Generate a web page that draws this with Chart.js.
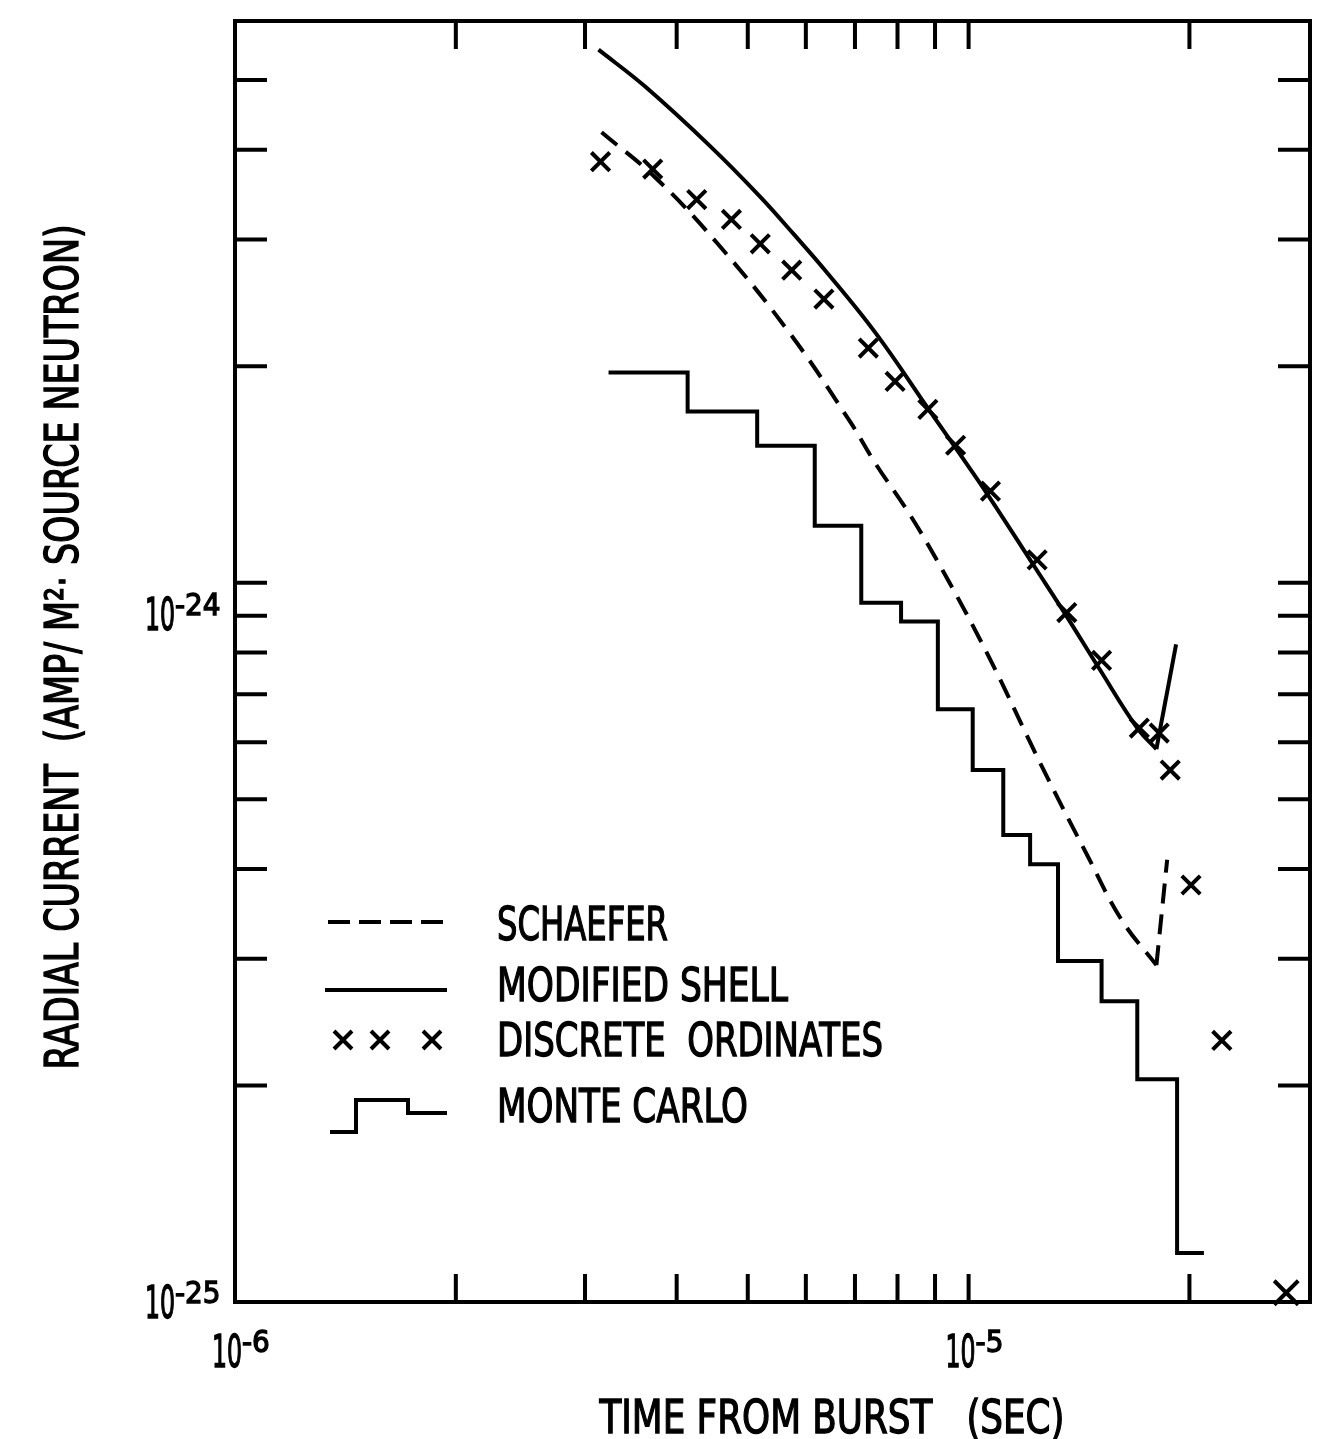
<!DOCTYPE html>
<html>
<head>
<meta charset="utf-8">
<title>Radial current vs time from burst</title>
<script src="https://cdn.jsdelivr.net/npm/chart.js@4/dist/chart.umd.min.js"></script>
<style>
  html, body { margin: 0; padding: 0; background: #fff; }
  #wrap { width: 1331px; height: 1439px; }
</style>
</head>
<body>
<div id="wrap"><canvas id="chart" width="1331" height="1439"></canvas></div>
<script>
// time from burst (sec) -> radial current (amp / m^2 . source neutron)
const schaeferTime = [3.16e-6, 3.74e-6, 4.55e-6, 5.71e-6, 6.88e-6, 7.48e-6, 8.29e-6, 9.22e-6, 1.065e-5, 1.259e-5, 1.453e-5, 1.616e-5, 1.803e-5];
const schaeferCurrent = [4.23e-24, 3.66e-24, 2.96e-24, 2.22e-24, 1.68e-24, 1.46e-24, 1.25e-24, 1.04e-24, 7.9e-25, 5.55e-25, 4.17e-25, 3.40e-25, 2.94e-25];
const schaeferTailTime = [1.803e-5, 1.865e-5];
const schaeferTailCurrent = [2.94e-25, 4.12e-25];

const shellTime = [3.13e-6, 3.62e-6, 4.45e-6, 5.20e-6, 5.78e-6, 6.41e-6, 7.48e-6, 8.83e-6, 9.60e-6, 1.065e-5, 1.232e-5, 1.353e-5, 1.509e-5, 1.698e-5, 1.803e-5];
const shellCurrent = [5.51e-24, 4.90e-24, 4.04e-24, 3.44e-24, 3.05e-24, 2.70e-24, 2.22e-24, 1.74e-24, 1.54e-24, 1.32e-24, 1.05e-24, 9.06e-25, 7.58e-25, 6.28e-25, 5.87e-25];
const shellTailTime = [1.803e-5, 1.918e-5];
const shellTailCurrent = [5.87e-25, 8.21e-25];

const ordinatesTime = [3.15e-6, 3.71e-6, 4.26e-6, 4.75e-6, 5.20e-6, 5.74e-6, 6.35e-6, 7.30e-6, 7.94e-6, 8.80e-6, 9.60e-6, 1.071e-5, 1.240e-5, 1.361e-5, 1.518e-5, 1.709e-5, 1.819e-5, 1.883e-5, 2.010e-5, 2.214e-5, 2.71e-5];
const ordinatesCurrent = [3.85e-24, 3.76e-24, 3.41e-24, 3.20e-24, 2.96e-24, 2.72e-24, 2.48e-24, 2.12e-24, 1.905e-24, 1.742e-24, 1.553e-24, 1.341e-24, 1.076e-24, 9.09e-25, 7.80e-25, 6.28e-25, 6.18e-25, 5.49e-25, 3.80e-25, 2.31e-25, 1.03e-25];

// monte carlo histogram: bin edges and the level of each bin
const monteCarloEdges = [3.23e-6, 4.14e-6, 5.15e-6, 6.17e-6, 7.14e-6, 8.09e-6, 9.08e-6, 1.013e-5, 1.115e-5, 1.213e-5, 1.324e-5, 1.518e-5, 1.698e-5, 1.924e-5, 2.093e-5];
const monteCarloCurrent = [1.96e-24, 1.73e-24, 1.55e-24, 1.20e-24, 9.38e-25, 8.83e-25, 6.67e-25, 5.49e-25, 4.46e-25, 4.06e-25, 2.98e-25, 2.62e-25, 2.04e-25, 1.17e-25];

const xTicks = [2e-6, 3e-6, 4e-6, 5e-6, 6e-6, 7e-6, 8e-6, 9e-6, 1e-5, 2e-5];
const yTicks = [2e-25, 3e-25, 4e-25, 5e-25, 6e-25, 7e-25, 8e-25, 9e-25, 1e-24, 2e-24, 3e-24, 4e-24, 5e-24];
const xLabelTicks = [1e-6, 1e-5];
const xLabelExp = ["-6", "-5"];
const yLabelTicks = [1e-25, 1e-24];
const yLabelExp = ["-25", "-24"];

const FONT = '"DejaVu Sans Condensed", "Liberation Sans Narrow", "DejaVu Sans", sans-serif';

function pairs(xs, ys) {
  return xs.map((x, i) => ({ x: x, y: ys[i] }));
}

const mcPoints = monteCarloEdges.map((t, i) => ({
  x: t,
  y: monteCarloCurrent[Math.min(i, monteCarloCurrent.length - 1)]
}));

// lettering: fill plus a thin stroke so it sits between book and bold
function letter(ctx, text, x, y, maxW) {
  ctx.fillText(text, x, y, maxW);
  ctx.strokeText(text, x, y, maxW);
}

function powerLabel(ctx, exp, left, baseline) {
  ctx.textAlign = "left";
  ctx.textBaseline = "alphabetic";
  ctx.font = "44px " + FONT;
  letter(ctx, "10", left, baseline, 30);
  ctx.font = "31px " + FONT;
  letter(ctx, exp, left + 30, baseline - 15, 46);
}

const framePlugin = {
  id: "frame",
  afterDraw(chart) {
    const ctx = chart.ctx;
    const a = chart.chartArea;
    const xs = chart.scales.x;
    const ys = chart.scales.y;
    ctx.save();
    ctx.strokeStyle = "#000";
    ctx.fillStyle = "#000";
    ctx.lineCap = "butt";

    // box
    ctx.lineWidth = 4;
    ctx.strokeRect(a.left, a.top, a.right - a.left, a.bottom - a.top);

    // inward ticks on all four sides
    ctx.beginPath();
    xTicks.forEach(t => {
      const px = xs.getPixelForValue(t);
      ctx.moveTo(px, a.bottom); ctx.lineTo(px, a.bottom - 28);
      ctx.moveTo(px, a.top); ctx.lineTo(px, a.top + 28);
    });
    yTicks.forEach(v => {
      const py = ys.getPixelForValue(v);
      ctx.moveTo(a.left, py); ctx.lineTo(a.left + 32, py);
      ctx.moveTo(a.right, py); ctx.lineTo(a.right - 32, py);
    });
    ctx.stroke();

    // tick labels
    ctx.lineWidth = 1.3;
    xLabelTicks.forEach((t, i) => {
      const px = xs.getPixelForValue(t);
      powerLabel(ctx, xLabelExp[i], px - 23, a.bottom + 65);
    });
    const yDrop = [16, 47];
    yLabelTicks.forEach((v, i) => {
      const py = ys.getPixelForValue(v);
      powerLabel(ctx, yLabelExp[i], a.left - 90, py + yDrop[i]);
    });

    // axis titles
    ctx.font = "46px " + FONT;
    ctx.textAlign = "center";
    letter(ctx, "TIME FROM BURST   (SEC)", 832, 1433, 465);
    ctx.save();
    ctx.translate(78, 647);
    ctx.rotate(-Math.PI / 2);
    letter(ctx, "RADIAL CURRENT  (AMP/ M\u00B2\u00B7 SOURCE NEUTRON)", 0, 0, 845);
    ctx.restore();

    // legend
    ctx.lineWidth = 4;
    ctx.setLineDash([22, 9]);
    ctx.beginPath(); ctx.moveTo(328, 922); ctx.lineTo(447, 922); ctx.stroke();
    ctx.setLineDash([]);
    ctx.beginPath(); ctx.moveTo(325, 990); ctx.lineTo(447, 990); ctx.stroke();
    [343, 380, 432].forEach(cx => {
      ctx.beginPath();
      ctx.moveTo(cx - 9, 1031); ctx.lineTo(cx + 9, 1049);
      ctx.moveTo(cx + 9, 1031); ctx.lineTo(cx - 9, 1049);
      ctx.stroke();
    });
    ctx.beginPath();
    ctx.moveTo(330, 1132); ctx.lineTo(356, 1132); ctx.lineTo(356, 1100);
    ctx.lineTo(408, 1100); ctx.lineTo(408, 1113); ctx.lineTo(447, 1113);
    ctx.stroke();

    ctx.lineWidth = 1.3;
    ctx.font = "46px " + FONT;
    ctx.textAlign = "left";
    letter(ctx, "SCHAEFER", 497, 940, 171);
    letter(ctx, "MODIFIED SHELL", 497, 1001, 291);
    letter(ctx, "DISCRETE  ORDINATES", 497, 1056, 386);
    letter(ctx, "MONTE CARLO", 497, 1122, 251);
    ctx.restore();
  }
};

const lineBase = {
  borderColor: "#000",
  borderWidth: 4,
  pointRadius: 0,
  fill: false,
  clip: false
};

new Chart(document.getElementById("chart"), {
  type: "line",
  data: {
    datasets: [
      Object.assign({}, lineBase, {
        label: "SCHAEFER",
        data: pairs(schaeferTime, schaeferCurrent),
        borderDash: [20, 11],
        tension: 0.4
      }),
      Object.assign({}, lineBase, {
        label: "SCHAEFER tail",
        data: pairs(schaeferTailTime, schaeferTailCurrent),
        borderDash: [20, 11]
      }),
      Object.assign({}, lineBase, {
        label: "MODIFIED SHELL",
        data: pairs(shellTime, shellCurrent),
        tension: 0.4
      }),
      Object.assign({}, lineBase, {
        label: "MODIFIED SHELL tail",
        data: pairs(shellTailTime, shellTailCurrent)
      }),
      {
        label: "DISCRETE ORDINATES",
        data: pairs(ordinatesTime, ordinatesCurrent),
        showLine: false,
        pointStyle: "crossRot",
        pointRadius: c => (c.dataIndex === ordinatesTime.length - 1 ? 17 : 13),
        pointBorderWidth: 4,
        pointBorderColor: "#000",
        pointBackgroundColor: "#000",
        clip: false
      },
      Object.assign({}, lineBase, {
        label: "MONTE CARLO",
        data: mcPoints,
        stepped: "before"
      })
    ]
  },
  options: {
    responsive: false,
    devicePixelRatio: 1,
    animation: false,
    events: [],
    layout: { padding: { left: 235, right: 12, top: 16, bottom: 137 } },
    scales: {
      x: { type: "logarithmic", display: false, min: 1e-6, max: 2.92e-5 },
      y: { type: "logarithmic", display: false, min: 1e-25, max: 6.04e-24 }
    },
    plugins: {
      legend: { display: false },
      tooltip: { enabled: false }
    }
  },
  plugins: [framePlugin]
});
</script>
</body>
</html>
